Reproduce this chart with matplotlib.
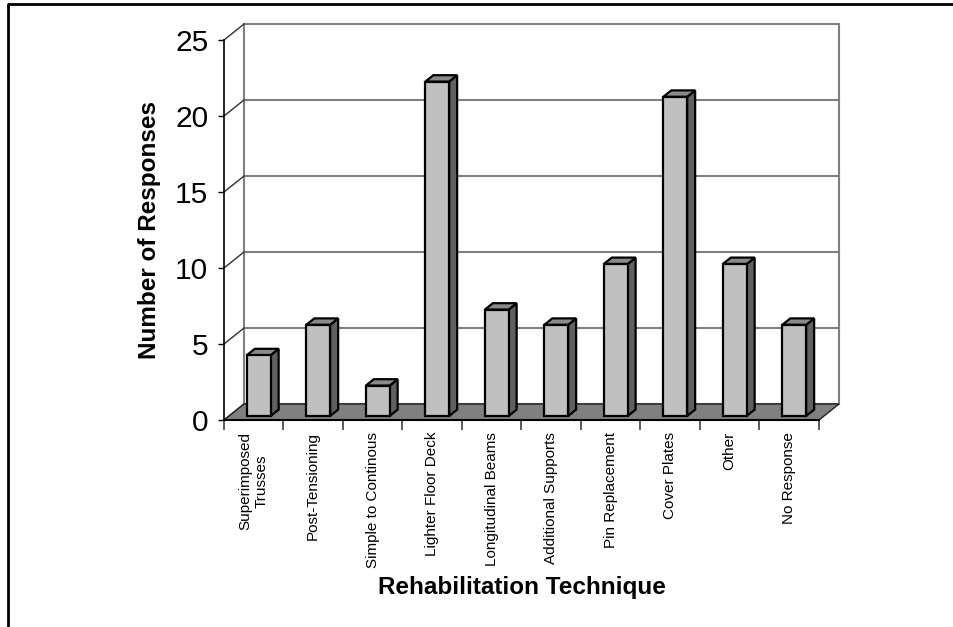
import matplotlib
matplotlib.use('Agg')
import matplotlib.pyplot as plt
from matplotlib.patches import Polygon
from matplotlib.lines import Line2D

plt.rcParams['font.family'] = ['Liberation Sans', 'DejaVu Sans']

# datos
categories = ['Superimposed\nTrusses', 'Post-Tensioning', 'Simple to Continous',
              'Lighter Floor Deck', 'Longitudinal Beams', 'Additional Supports',
              'Pin Replacement', 'Cover Plates', 'Other', 'No Response']
responses = [4, 6, 2, 22, 7, 6, 10, 21, 10, 6]
y_ticks = [0, 5, 10, 15, 20, 25]

# profundidad del "3D" en unidades de datos
DX, DY = 0.336, 1.053


def p(x, y, d):
    return (x + d * DX, y + d * DY)


fig = plt.figure(figsize=(9.54, 6.27), dpi=100)
ax = fig.add_axes([224 / 954, 207 / 627, 595 / 954, 380 / 627])
n = len(categories)
x0, x1 = -0.5, n - 0.5
ymax = y_ticks[-1]
ax.set_xlim(x0, x1)
ax.set_ylim(0, ymax)
ax.patch.set_visible(False)
ax.spines['top'].set_visible(False)
ax.spines['right'].set_visible(False)

grid_c = '#808080'

# pared del fondo
wall = Polygon([p(x0, 0, 1), p(x1, 0, 1), p(x1, ymax, 1), p(x0, ymax, 1)],
               closed=True, fc='white', ec=grid_c, lw=1.5, clip_on=False, zorder=1)
ax.add_patch(wall)

# lineas de grilla + diagonales de la pared lateral
for v in y_ticks:
    a, b = p(x0, v, 1), p(x1, v, 1)
    if 0 < v < ymax:
        ax.plot([a[0], b[0]], [a[1], b[1]], color=grid_c, lw=1.5, clip_on=False, zorder=1.2)
    ax.plot([x0, a[0]], [v, a[1]], color='#303030', lw=1, clip_on=False, zorder=1.2)

# piso
floor = Polygon([p(x0, 0, 0), p(x1, 0, 0), p(x1, 0, 1), p(x0, 0, 1)],
                closed=True, fc='#808080', ec='#202020', lw=1, clip_on=False, zorder=2)
ax.add_patch(floor)

# barras
w = 0.4
d0, d1 = 0.25, 0.65
for i, v in enumerate(responses):
    xl, xr = i - w / 2, i + w / 2
    side = [p(xr, 0, d0), p(xr, 0, d1), p(xr, v, d1), p(xr, v, d0)]
    top = [p(xl, v, d0), p(xr, v, d0), p(xr, v, d1), p(xl, v, d1)]
    front = [p(xl, 0, d0), p(xr, 0, d0), p(xr, v, d0), p(xl, v, d0)]
    for pts, col in [(side, '#606060'), (top, '#8a8a8a'), (front, '#c0c0c0')]:
        ax.add_patch(Polygon(pts, closed=True, fc=col, ec='black', lw=1.6,
                             joinstyle='miter', clip_on=False, zorder=3))

# ejes
ax.spines['left'].set_linewidth(1.2)
ax.spines['bottom'].set_linewidth(1.5)
ax.set_yticks(y_ticks)
ax.tick_params(axis='y', direction='out', length=4.3, width=1, labelsize=21.5, pad=7)
ax.set_xticks(range(n))
ax.set_xticklabels(categories, rotation=90, fontsize=11, multialignment='center')
ax.tick_params(axis='x', which='major', length=0, pad=8.6)
ax.set_xticks([x0 + k for k in range(n + 1)], minor=True)
ax.tick_params(axis='x', which='minor', direction='out', length=7, width=1.2, color='#404040')

ax.set_ylabel('Number of Responses', fontsize=17.5, fontweight='bold', labelpad=10)
ax.set_xlabel('Rehabilitation Technique', fontsize=17.5, fontweight='bold', labelpad=6)

# marco
fig.add_artist(Line2D([8 / 954, 8 / 954, 1], [0, 1 - 4 / 627, 1 - 4 / 627],
                      color='black', lw=2, transform=fig.transFigure))

fig.savefig('out.png', dpi=100)
